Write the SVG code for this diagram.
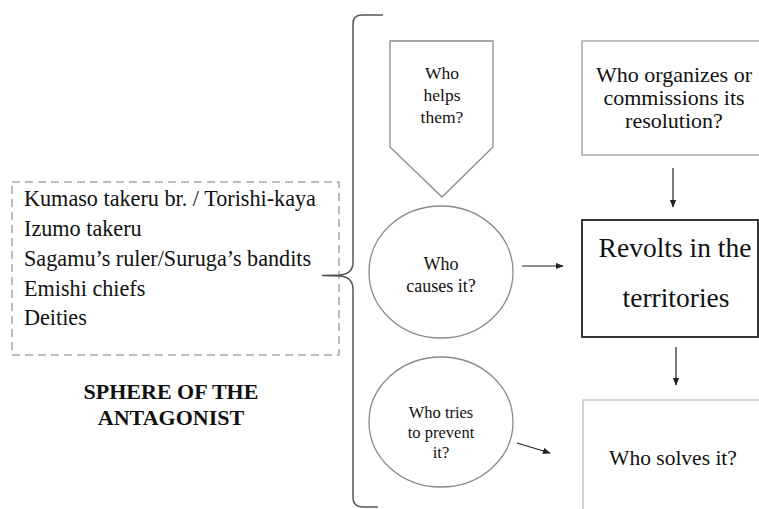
<svg xmlns="http://www.w3.org/2000/svg" width="759" height="509" viewBox="0 0 759 509">
  <defs>
    <marker id="head" viewBox="0 0 10 10" refX="9" refY="5" markerWidth="8" markerHeight="8" markerUnits="userSpaceOnUse" orient="auto">
      <path d="M0,1 L10,5 L0,9 Z" fill="#222"/>
    </marker>
    <style>
      .shape { fill: #fff; stroke: #8a8a8a; stroke-width: 1.3; }
      .conn { stroke: #222; stroke-width: 1.2; fill: none; marker-end: url(#head); }
    </style>
  </defs>
  <rect width="759" height="509" fill="#fff"/>

  <!-- antagonist list -->
  <g id="antagonist-list">
    <rect x="12" y="182" width="327" height="173" fill="none" stroke="#a8a8a8" stroke-width="1.5" stroke-dasharray="8,5"/>
    <text x="24" y="206" font-size="22.2" font-family="Liberation Serif" fill="#111">Kumaso takeru br. / Torishi-kaya</text>
    <text x="24" y="236" font-size="22.2" font-family="Liberation Serif" fill="#111">Izumo takeru</text>
    <text x="24" y="266" font-size="22.2" font-family="Liberation Serif" fill="#111">Sagamu’s ruler/Suruga’s bandits</text>
    <text x="24" y="296" font-size="22.2" font-family="Liberation Serif" fill="#111">Emishi chiefs</text>
    <text x="24" y="325" font-size="22.2" font-family="Liberation Serif" fill="#111">Deities</text>
  </g>

  <g id="sphere-label">
    <text x="171" y="399" font-size="22" font-weight="bold" text-anchor="middle" font-family="Liberation Serif" fill="#111">SPHERE OF THE</text>
    <text x="171" y="425" font-size="22" font-weight="bold" text-anchor="middle" font-family="Liberation Serif" fill="#111">ANTAGONIST</text>
  </g>

  <!-- curly brace grouping the three questions -->
  <g id="brace">
    <path d="M383,15 L362,15 Q353,15 353,24 L353,262 Q353,274 340,275 L322,275.5 L340,276 Q353,277 353,290 L353,498 Q353,506 362,507 L378,507" fill="none" stroke="#555" stroke-width="1.5"/>
  </g>

  <g id="who-helps">
    <path class="shape" d="M390,41 L493,41 L493,147 L442,197 L390,147 Z"/>
    <text x="442" y="79" font-size="17.5" text-anchor="middle" font-family="Liberation Serif" fill="#111">Who</text>
    <text x="442" y="101" font-size="17.5" text-anchor="middle" font-family="Liberation Serif" fill="#111">helps</text>
    <text x="442" y="123" font-size="17.5" text-anchor="middle" font-family="Liberation Serif" fill="#111">them?</text>
  </g>

  <g id="who-causes">
    <ellipse class="shape" cx="441" cy="272" rx="72" ry="66"/>
    <text x="441" y="270" font-size="18" text-anchor="middle" font-family="Liberation Serif" fill="#111">Who</text>
    <text x="441" y="292" font-size="18" text-anchor="middle" font-family="Liberation Serif" fill="#111">causes it?</text>
  </g>

  <g id="who-prevents">
    <ellipse class="shape" cx="441" cy="422" rx="72" ry="65"/>
    <text x="441" y="418" font-size="16.5" text-anchor="middle" font-family="Liberation Serif" fill="#111">Who tries</text>
    <text x="441" y="438" font-size="16.5" text-anchor="middle" font-family="Liberation Serif" fill="#111">to prevent</text>
    <text x="441" y="458" font-size="16.5" text-anchor="middle" font-family="Liberation Serif" fill="#111">it?</text>
  </g>

  <g id="who-organizes">
    <rect x="582" y="41" width="190" height="114" fill="#fff" stroke="#999" stroke-width="1.3"/>
    <text x="674" y="82" font-size="22" text-anchor="middle" font-family="Liberation Serif" fill="#111">Who organizes or</text>
    <text x="674" y="105" font-size="22" text-anchor="middle" font-family="Liberation Serif" fill="#111">commissions its</text>
    <text x="674" y="128" font-size="22" text-anchor="middle" font-family="Liberation Serif" fill="#111">resolution?</text>
  </g>

  <g id="revolts">
    <rect x="582" y="220" width="176" height="117" fill="#fff" stroke="#222" stroke-width="1.8"/>
    <text x="675" y="257" font-size="27.5" text-anchor="middle" font-family="Liberation Serif" fill="#111">Revolts in the</text>
    <text x="676" y="307" font-size="27.5" text-anchor="middle" font-family="Liberation Serif" fill="#111">territories</text>
  </g>

  <g id="who-solves">
    <rect x="583" y="400" width="190" height="120" fill="#fff" stroke="#bbb" stroke-width="1.3"/>
    <text x="673" y="465" font-size="21.5" text-anchor="middle" font-family="Liberation Serif" fill="#111">Who solves it?</text>
  </g>

  <!-- connectors -->
  <g id="connectors">
    <line class="conn" x1="522" y1="266" x2="563" y2="266"/>
    <line class="conn" x1="517" y1="443" x2="550" y2="453"/>
    <line class="conn" x1="673" y1="168" x2="673" y2="207"/>
    <line class="conn" x1="676" y1="347" x2="676" y2="385"/>
  </g>
</svg>
